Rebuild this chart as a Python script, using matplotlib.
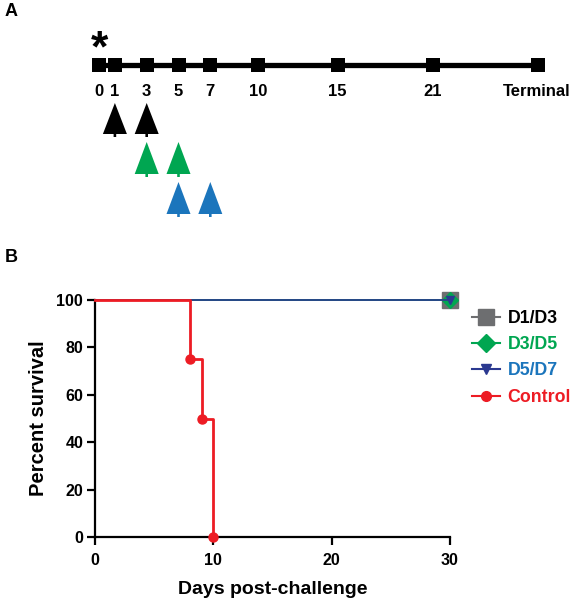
import numpy as np
import matplotlib.pyplot as plt
from matplotlib.patches import Polygon
from matplotlib.lines import Line2D

plt.rcParams['font.family'] = ['Liberation Sans', 'DejaVu Sans']
plt.rcParams['font.weight'] = 'bold'

# Panel A: schedule
timeline_days = [0, 1, 3, 5, 7, 10, 15, 21]
timeline_labels = ['0', '1', '3', '5', '7', '10', '15', '21']
terminal_day = 27.6
dose_d1d3 = [1, 3]
dose_d3d5 = [3, 5]
dose_d5d7 = [5, 7]

# Panel B: survival
group_names = ['D1/D3', 'D3/D5', 'D5/D7', 'Control']
treated_days = [0, 30]
treated_surv = [100, 100]
control_days = [0, 8, 9, 10]
control_surv = [100, 75, 50, 0]

c_gray = '#6d6e70'
c_green = '#00a651'
c_blue_line = '#2b3990'
c_blue = '#1b75bc'
c_red = '#ed1c24'

fig = plt.figure(figsize=(5.71, 6.0), dpi=100)

# ---- Panel A ----
px_per_day = 15.9
x0 = 99
axa = fig.add_axes([0, 0.6, 1, 0.4])
axa.set_xlim(-x0 / px_per_day, (571 - x0) / px_per_day)
axa.set_ylim(240, 0)
axa.axis('off')

all_pos = timeline_days + [terminal_day]
axa.plot([all_pos[0] - 0.4, all_pos[-1] + 0.4], [65, 65], color='black', lw=3.8,
         solid_capstyle='butt', zorder=1)
axa.plot(all_pos, [65] * len(all_pos), 's', color='black', ms=10, mew=0, zorder=2)
for d, lab in zip(timeline_days, timeline_labels):
    axa.text(d, 91, lab, ha='center', va='center', fontsize=12, fontweight='bold')
axa.text(terminal_day - 0.1, 91, 'Terminal', ha='center', va='center', fontsize=12,
         fontweight='bold')
axa.text(0, 50, '*', ha='center', va='center', fontsize=32, fontweight='bold')


def arrow(ax, d, top, bottom, color):
    w = 12 / px_per_day
    s = 1.3 / px_per_day
    base = bottom - 3
    pts = [(d, top), (d + w, base), (d + s, base), (d + s, bottom),
           (d - s, bottom), (d - s, base), (d - w, base)]
    ax.add_patch(Polygon(pts, closed=True, color=color, lw=0))


for d in dose_d1d3:
    arrow(axa, d, 103, 137, 'black')
for d in dose_d3d5:
    arrow(axa, d, 142, 177, c_green)
for d in dose_d5d7:
    arrow(axa, d, 182, 217, c_blue)

fig.text(5 / 571, 1 - 12 / 600, 'A', fontsize=13, fontweight='bold', va='center')
fig.text(5 / 571, 1 - 258 / 600, 'B', fontsize=13, fontweight='bold', va='center')

# ---- Panel B ----
ax = fig.add_axes([95 / 571, 1 - 537 / 600, 355 / 571, 237 / 600])
ax.set_xlim(0, 30)
ax.set_ylim(0, 100)

ax.plot(treated_days, treated_surv, color=c_gray, lw=1.2, marker='s', ms=12,
        markevery=[1], clip_on=False, zorder=3)
ax.plot(treated_days, treated_surv, color=c_green, lw=1.2, marker='D', ms=8,
        markevery=[1], clip_on=False, zorder=4)
ax.plot(treated_days, treated_surv, color=c_blue_line, lw=1.2, marker='v', ms=6,
        markevery=[1], clip_on=False, zorder=5)
ax.plot(control_days, control_surv, color=c_red, lw=2, drawstyle='steps-post',
        clip_on=False, zorder=6)
ax.plot(control_days[1:], control_surv[1:], 'o', color=c_red, ms=6.5,
        clip_on=False, zorder=7)

for s in ['top', 'right']:
    ax.spines[s].set_visible(False)
for s in ['left', 'bottom']:
    ax.spines[s].set_linewidth(1.6)
ax.set_xticks([0, 10, 20, 30])
ax.set_yticks([0, 20, 40, 60, 80, 100])
ax.tick_params(width=1.6, length=5.5, labelsize=11.5)
ax.tick_params(axis='x', pad=6)
ax.tick_params(axis='y', pad=3)
for t in ax.get_xticklabels() + ax.get_yticklabels():
    t.set_fontweight('bold')
ax.set_xlabel('Days post-challenge', fontsize=14, fontweight='bold', va='baseline')
ax.xaxis.set_label_coords(0.5, -57 / 237)
ax.set_ylabel('Percent survival', fontsize=14.5, fontweight='bold', labelpad=6)

handles = [
    Line2D([], [], color=c_gray, lw=1.5, marker='s', ms=11),
    Line2D([], [], color=c_green, lw=1.5, marker='D', ms=9),
    Line2D([], [], color=c_blue_line, lw=1.5, marker='v', ms=7),
    Line2D([], [], color=c_red, lw=1.5, marker='o', ms=7),
]
leg = fig.legend(handles, group_names, loc='upper left',
                 bbox_to_anchor=(472 / 571, 1 - 310 / 600), frameon=False,
                 handlelength=1.55, handletextpad=0.45,
                 labelspacing=0.52, borderpad=0, borderaxespad=0,
                 labelcolor=['black', c_green, c_blue, c_red],
                 prop={'weight': 'bold', 'size': 12.8})

fig.savefig('out.png', dpi=100)
